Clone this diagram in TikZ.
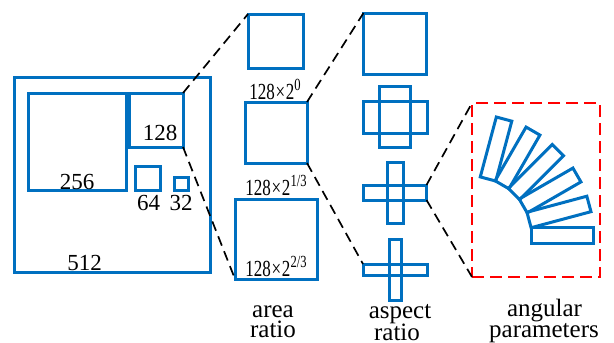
\documentclass[tikz,border=0pt]{standalone}
\usepackage{fontspec}
\setmainfont{Liberation Serif}
\usepackage{graphicx}
\definecolor{boxblue}{RGB}{0,112,192}
\definecolor{zoomred}{RGB}{255,0,0}
\newcommand\arealab[1]{\scalebox{0.74}[1]{128\kern1pt×\kern1pt2\raisebox{0.36em}{\fontsize{17}{17}\selectfont #1}}}
\tikzset{
  bx/.style={draw=boxblue, line width=3pt, inner sep=0pt, outer sep=0pt,
    minimum width=#1},
  bh/.style={minimum height=#1},
  zoomline/.style={black, line width=1.7pt, dash pattern=on 10pt off 6pt},
  redbox/.style={draw=zoomred, line width=1.8pt, dash pattern=on 12pt off 6pt,
    inner sep=0pt, outer sep=0pt, minimum width=128pt, minimum height=174pt},
  num/.style={anchor=base, inner sep=0pt, font=\fontsize{23}{23}\selectfont},
  caplab/.style={anchor=base, inner sep=0pt, text depth=0pt,
    font=\fontsize{25}{25}\selectfont},
  fan/.style={draw=boxblue, line width=3pt, inner sep=0pt, outer sep=0pt,
    minimum width=62pt, minimum height=16pt}
}
\begin{document}
\begin{tikzpicture}[x=1pt,y=1pt]
\useasboundingbox (0,0) rectangle (614,-343);

% anchor scales
\node[bx=196pt, bh=195pt] (s512) at (112,-174.5) {};
\node[bx=98pt,  bh=97pt]  (s256) at (77,-141.5) {};
\node[bx=54pt,  bh=54pt]  (s128) at (156,-120) {};
\node[bx=25pt,  bh=24pt]  (s64)  at (147.5,-178) {};
\node[bx=14pt,  bh=13pt]  (s32)  at (181,-183.5) {};
\node[num] (l512) at (84.5,-270) {512};
\node[num] (l256) at (77,-189) {256};
\node[num] (l128) at (160,-140) {128};
\node[num] (l64)  at (148.5,-210) {64};
\node[num] (l32)  at (181,-210) {32};

% area ratios
\node[bx=55pt, bh=54pt] (a1) at (275.5,-41) {};
\node[bx=62pt, bh=61pt] (a2) at (276,-132.5) {};
\node[bx=82pt, bh=80pt] (a3) at (276,-239) {};
\node[num] (la1) at (275,-99)  {\arealab{0}};
\node[num] (la2) at (276,-195) {\arealab{1/3}};
\node[num] (la3) at (276,-276) {\arealab{2/3}};
\node[caplab] (larea1) at (273,-317) {area};
\node[caplab] (larea2) at (273,-337.5) {ratio};

% aspect ratios
\node[bx=63pt, bh=61pt] (r1)  at (395,-43.5) {};
\node[bx=64pt, bh=32pt] (r2h) at (395,-117) {};
\node[bx=31pt, bh=61pt] (r2v) at (395,-116.5) {};
\node[bx=63pt, bh=15pt] (r3h) at (395,-192.5) {};
\node[bx=16pt, bh=61pt] (r3v) at (395,-192.5) {};
\node[bx=64pt, bh=11pt] (r4h) at (395,-269.5) {};
\node[bx=12pt, bh=61pt] (r4v) at (395,-269.5) {};
\node[caplab] (lasp1) at (400,-318) {aspect};
\node[caplab] (lasp2) at (397,-340) {ratio};

% angular parameters
\node[redbox] (red) at (536,-190) {};
\coordinate (pivot) at (473,-235);
\foreach \t [count=\i] in {0,15,30,45,60,75}
  \node[fan, rotate=\t] (f\i) at ([shift={(\t:89)}]pivot) {};
\node[caplab] (lang1) at (544.5,-316.5) {angular};
\node[caplab] (lang2) at (544,-337.5) {parameters};

% zoom connectors
\draw[zoomline] (s128.north east) -- (a1.north west);
\draw[zoomline] (s128.south east) -- (a3.south west);
\draw[zoomline] (a2.north east) -- (r1.north west);
\draw[zoomline] (a2.south east) -- (r4h.north west);
\draw[zoomline] (r3h.north east) -- (red.north west);
\draw[zoomline] (r3h.south east) -- (red.south west);
\end{tikzpicture}
\end{document}
